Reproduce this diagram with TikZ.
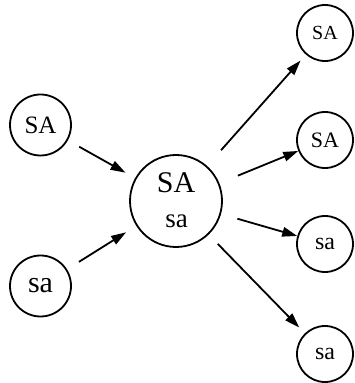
\documentclass[tikz,border=0pt]{standalone}
\usepackage{fontspec}
\setmainfont{Liberation Serif}
\usetikzlibrary{arrows.meta,shapes.geometric}
\begin{document}
\begin{tikzpicture}[x=1pt,y=1pt,
  nd/.style={draw, line width=1.8pt, inner sep=0pt},
  arr/.style={line width=1.8pt, -{Triangle[length=15pt,width=9.5pt]}},
  fs/.style={font=\fontsize{#1}{#1}\selectfont}
  ]
\useasboundingbox (0,0) rectangle (354,383);
\node[nd, circle, minimum size=61pt, fs=25] (l1) at (40.5,258) {SA};
\node[nd, circle, minimum size=61pt, fs=30] (l2) at (40.5,97) {sa};
\node[nd, circle, minimum size=92pt] (c) at (176,182) {};
\node[fs=30, anchor=base, inner sep=0pt] (cSA) at (176,190.3) {SA};
\node[fs=27, anchor=base, inner sep=0pt] (csa) at (176.5,155.7) {sa};
\node[nd, circle, minimum size=56pt, fs=20] (r1) at (325,350) {SA};
\node[nd, circle, minimum size=56pt, fs=22] (r2) at (325,243) {SA};
\node[nd, circle, minimum size=56pt, fs=24] (r3) at (325,139) {sa};
\node[nd, circle, minimum size=56pt, fs=24] (r4) at (325,29) {sa};
\draw[arr, shorten <=13pt, shorten >=11pt] (l1) -- (c);
\draw[arr, shorten <=14pt, shorten >=12pt] (l2) -- (c);
\draw[arr, shorten <=21pt, shorten >=8pt] (c) -- (r1);
\draw[arr, shorten <=20pt, shorten >=0pt] (c) -- (r2);
\draw[arr, shorten <=17pt, shorten >=0pt] (c) -- (r3);
\draw[arr, shorten <=13pt, shorten >=8pt] (c) -- (r4);
\end{tikzpicture}
\end{document}
